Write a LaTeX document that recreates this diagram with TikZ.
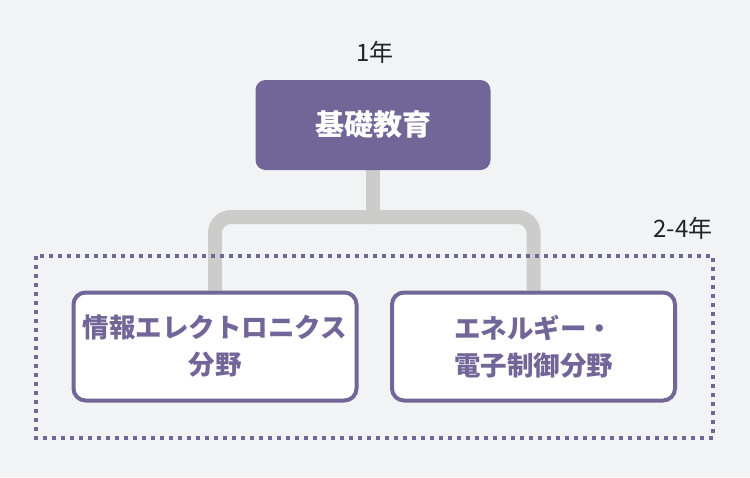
\documentclass[tikz,border=0pt]{standalone}
\usepackage{fontspec}
\setmainfont{Noto Sans CJK JP}
\usetikzlibrary{positioning, backgrounds}
\definecolor{kpurple}{HTML}{726699}
\definecolor{kgray}{HTML}{CCCDCB}
\definecolor{kbg}{HTML}{F2F3F5}
\definecolor{ktext}{HTML}{222222}

\begin{document}
\begin{tikzpicture}[
  x=1pt, y=-1pt,
  every node/.style={font=\fontsize{24}{28}\selectfont, text=ktext},
  basebox/.style={rectangle, rounded corners=10pt, fill=kpurple, text=white, minimum width=235pt, minimum height=90pt, font=\fontsize{29}{34}\selectfont\bfseries},
  fieldbox/.style={rectangle, rounded corners=12pt, draw=kpurple, fill=white, line width=4pt, minimum width=283pt, minimum height=108pt, text=kpurple, align=center, font=\fontsize{26.5}{37}\selectfont\bfseries},
  link/.style={kgray, line width=14pt, rounded corners=16pt},
]
\useasboundingbox (0,0) rectangle (750,477);
\node[basebox] (base) at (373,125) {基礎教育};
\node (first) at (375,52) {1年};
\node[fieldbox] (info) at (215,346.5) {情報エレクトロニクス\\分野};
\node[fieldbox] (energy) at (533.5,346.5) {エネルギー・\\電子制御分野};
\node (later) at (683,228) {2-4年};
\coordinate (fork) at (373,217);
\begin{pgfonlayer}{background}
\fill[kbg] (0,0) rectangle (750,477);
\draw[kgray, line width=14pt] (base.south) -- (fork);
\draw[link] (fork) -| (info.north);
\draw[link] (fork) -| (energy.north);
\draw[kpurple, line width=4pt, dash pattern=on 4pt off 5pt] (36,256) rectangle (713,438);
\end{pgfonlayer}
\end{tikzpicture}
\end{document}
